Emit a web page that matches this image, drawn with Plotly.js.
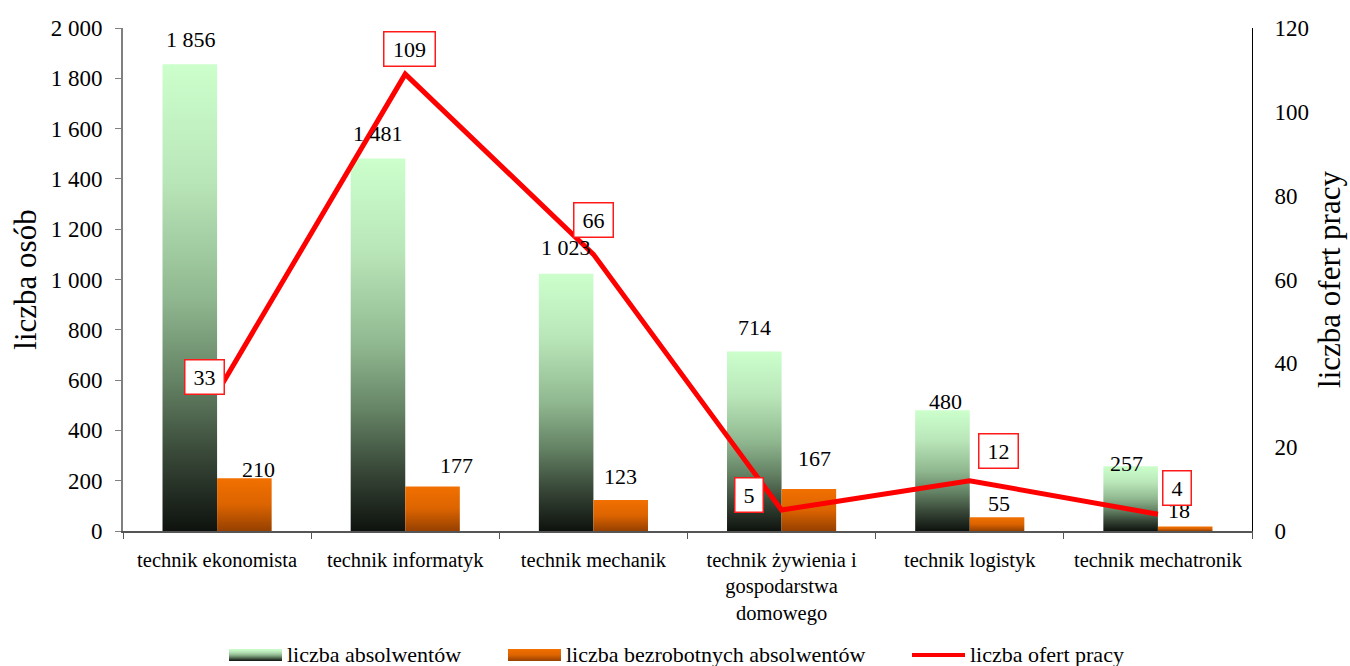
<!DOCTYPE html>
<html><head><meta charset="utf-8">
<script src="https://cdn.plot.ly/plotly-3.0.1.min.js"></script>
<style>body{margin:0;background:#fff}#chart{width:1350px;height:666px}</style>
</head><body><div id="chart"></div>
<script>
const categories = ["technik ekonomista","technik informatyk","technik mechanik","technik żywienia i<br>gospodarstwa<br>domowego","technik logistyk","technik mechatronik"];
const graduates = [1856,1481,1023,714,480,257];
const unemployedGraduates = [210,177,123,167,55,18];
const jobOffers = [33,109,66,5,12,4];
const seriesNames = ["liczba absolwentów","liczba bezrobotnych absolwentów","liczba ofert pracy"];
const leftTicks = [0,200,400,600,800,1000,1200,1400,1600,1800,2000];
const rightTicks = [0,20,40,60,80,100,120];
const leftTitle = "liczba osób";
const rightTitle = "liczba ofert pracy";

// label placement offsets in pixels (relative to category centre / value)
const gradLabelDx = [-26.5,-27.5,-27,-27,-24.3,-31.3];
const gradLabelDy = [25,25.5,26,24,8.5,3];
const unempLabelDx = [41.3,51.7,27,32.7,29,21];
const unempLabelDy = [9,20.5,24,30.5,14,15.5];
const offerLabelDx = [-13,4,0,-32.5,29,19.5];
const offerLabelDy = [16,25,34,15.5,29.5,26.5];
const offerBoxW = [38,50,38,27,38,27];
// legend placement (text start x, vertical centre y) in pixels
const legendTextX = [287,566,970];
const legendCenterY = 654;

const FONT = "Liberation Serif, Times New Roman, serif";
function fmt(v){return String(v).replace(/\B(?=(\d{3})+(?!\d))/g,' ');}

const traces = [
  {type:'bar', name:seriesNames[0], x:categories, y:graduates, marker:{color:'#9cc89c'}, hoverinfo:'none'},
  {type:'bar', name:seriesNames[1], x:categories, y:unemployedGraduates, marker:{color:'#e06400'}, hoverinfo:'none'},
  {type:'scatter', mode:'lines', name:seriesNames[2], x:categories, y:jobOffers, yaxis:'y2', line:{color:'#ff0000', width:5}, hoverinfo:'none'}
];

const annotations = [];
categories.forEach((c,i)=>{
  annotations.push({x:i, y:graduates[i], xref:'x', yref:'y', text:fmt(graduates[i]), showarrow:false,
    xanchor:'center', yanchor:'middle', xshift:gradLabelDx[i], yshift:gradLabelDy[i], font:{size:22, family:FONT, color:'#000'}});
  annotations.push({x:i, y:unemployedGraduates[i], xref:'x', yref:'y', text:fmt(unemployedGraduates[i]), showarrow:false,
    xanchor:'center', yanchor:'middle', xshift:unempLabelDx[i], yshift:unempLabelDy[i], font:{size:22, family:FONT, color:'#000'}});
});
categories.forEach((c,i)=>{
  annotations.push({x:i, y:jobOffers[i], xref:'x', yref:'y2', text:fmt(jobOffers[i]), showarrow:false,
    xanchor:'center', yanchor:'middle', xshift:offerLabelDx[i], yshift:offerLabelDy[i],
    bgcolor:'#ffffff', bordercolor:'#ff1a1a', borderwidth:1.5, borderpad:0, width:offerBoxW[i], height:33,
    font:{size:22, family:FONT, color:'#000'}});
});

const layout = {
  width:1350, height:666,
  margin:{l:123, r:98, t:28, b:135},
  paper_bgcolor:'#fff', plot_bgcolor:'#fff',
  font:{family:FONT, color:'#000', size:21},
  separators:', ',
  barmode:'group', bargap:0.42, bargroupgap:0,
  showlegend:true,
  legend:{orientation:'h', x:0.49, xanchor:'center', y:-0.15, yanchor:'top', bgcolor:'rgba(0,0,0,0)', font:{size:22, family:FONT}},
  xaxis:{type:'category', range:[-0.5,5.5], showline:true, linecolor:'#555', linewidth:2, ticks:'outside', tickson:'boundaries',
    ticklen:6, tickcolor:'#555', tickfont:{size:20.5}, ticklabelstandoff:9, showgrid:false, zeroline:false},
  xaxis2:{overlaying:'x', anchor:'y', type:'linear', range:[-0.5,5.5], tickvals:[-0.5,0.5,1.5,2.5,3.5,4.5,5.5], ticks:'inside',
    ticklen:6, tickcolor:'#555', showticklabels:false, showline:false, showgrid:false, zeroline:false},
  yaxis:{range:[0,2000], tickvals:leftTicks, tickformat:',d', showline:true, linecolor:'#808080', linewidth:2,
    ticks:'outside', ticklen:6, tickcolor:'#808080', tickfont:{size:23}, ticklabelstandoff:8, showgrid:false, zeroline:false,
    title:{text:leftTitle, font:{size:31}, standoff:5}},
  yaxis2:{overlaying:'y', side:'right', anchor:'x', range:[0,120], tickvals:rightTicks, showline:true, linecolor:'#000', linewidth:1,
    ticks:'outside', ticklen:17, tickcolor:'rgba(0,0,0,0)', tickfont:{size:23}, showgrid:false, zeroline:false,
    title:{text:rightTitle, font:{size:31}, standoff:10}},
  yaxis3:{overlaying:'y', side:'left', anchor:'x', range:[0,2000], tickvals:leftTicks, ticks:'inside', ticklen:6, tickcolor:'#808080',
    showticklabels:false, showline:false, showgrid:false, zeroline:false},
  yaxis4:{overlaying:'y', side:'right', anchor:'x', range:[0,120], tickvals:rightTicks, ticks:'inside', ticklen:7, tickcolor:'#000',
    showticklabels:false, showline:false, showgrid:false, zeroline:false},
  yaxis5:{overlaying:'y', side:'right', anchor:'x', range:[0,120], tickvals:rightTicks, ticks:'outside', ticklen:7, tickcolor:'#000',
    showticklabels:false, showline:false, showgrid:false, zeroline:false},
  annotations:annotations
};

const NS='http://www.w3.org/2000/svg';
function makeGrad(defs,id,stops){
  if(document.getElementById(id)) return;
  const g=document.createElementNS(NS,'linearGradient');
  g.setAttribute('id',id); g.setAttribute('x1','0'); g.setAttribute('y1','0'); g.setAttribute('x2','0'); g.setAttribute('y2','1');
  stops.forEach(s=>{const st=document.createElementNS(NS,'stop'); st.setAttribute('offset',s[0]); st.setAttribute('stop-color',s[1]); g.appendChild(st);});
  defs.appendChild(g);
}
function styleChart(){
  const gd=document.getElementById('chart');
  const svg=gd.querySelector('svg.main-svg');
  let defs=svg.querySelector('defs');
  if(!defs){defs=document.createElementNS(NS,'defs'); svg.insertBefore(defs,svg.firstChild);}
  makeGrad(defs,'gradGreen',[[0,'#ccffcc'],[0.25,'#b9e6b9'],[0.5,'#90b890'],[0.68,'#648264'],[0.83,'#3a4a3a'],[1,'#0e120e']]);
  makeGrad(defs,'gradOrange',[[0,'#f27000'],[0.5,'#dc6400'],[1,'#964000']]);
  const bars=gd.querySelectorAll('.barlayer .trace.bars');
  if(bars[0]) bars[0].querySelectorAll('path').forEach(p=>p.style.fill='url(#gradGreen)');
  if(bars[1]) bars[1].querySelectorAll('path').forEach(p=>p.style.fill='url(#gradOrange)');
  gd.querySelectorAll('.legend .scrollbox').forEach(s=>s.removeAttribute('clip-path'));
  const items=gd.querySelectorAll('.legend .traces');
  items.forEach((it,i)=>{
    const txt=it.querySelector('text.legendtext');
    if(!txt) return;
    const tx=parseFloat(txt.getAttribute('x'))||0;
    const bb=txt.getBBox();
    const pm=it.parentNode.getCTM();
    const nx=legendTextX[i]-pm.e-tx;
    const ny=legendCenterY-pm.f-(bb.y+bb.height/2);
    it.setAttribute('transform','translate('+nx+','+ny+')');
    const ic=it.getCTM();
    const cyItem=bb.y+bb.height/2;
    it.querySelectorAll('.legendpoints path, .legendlines path').forEach(p=>{
      const pc=p.getCTM();
      const ox=pc.e-ic.e, oy=pc.f-ic.f;
      const x0=tx-58-ox, x1=tx-5-ox, cy=cyItem-oy+1;
      if(i<2){
        p.setAttribute('d','M'+x0+','+(cy-6)+'H'+x1+'V'+(cy+6)+'H'+x0+'Z');
        p.style.fill=i===0?'url(#gradGreen)':'url(#gradOrange)'; p.style.stroke='none';
      } else {
        p.setAttribute('d','M'+x0+','+cy+'H'+x1); p.style.strokeWidth='4px';
      }
    });
  });
}
Plotly.newPlot('chart',traces,layout,{displayModeBar:false,staticPlot:true}).then(styleChart);
</script></body></html>
